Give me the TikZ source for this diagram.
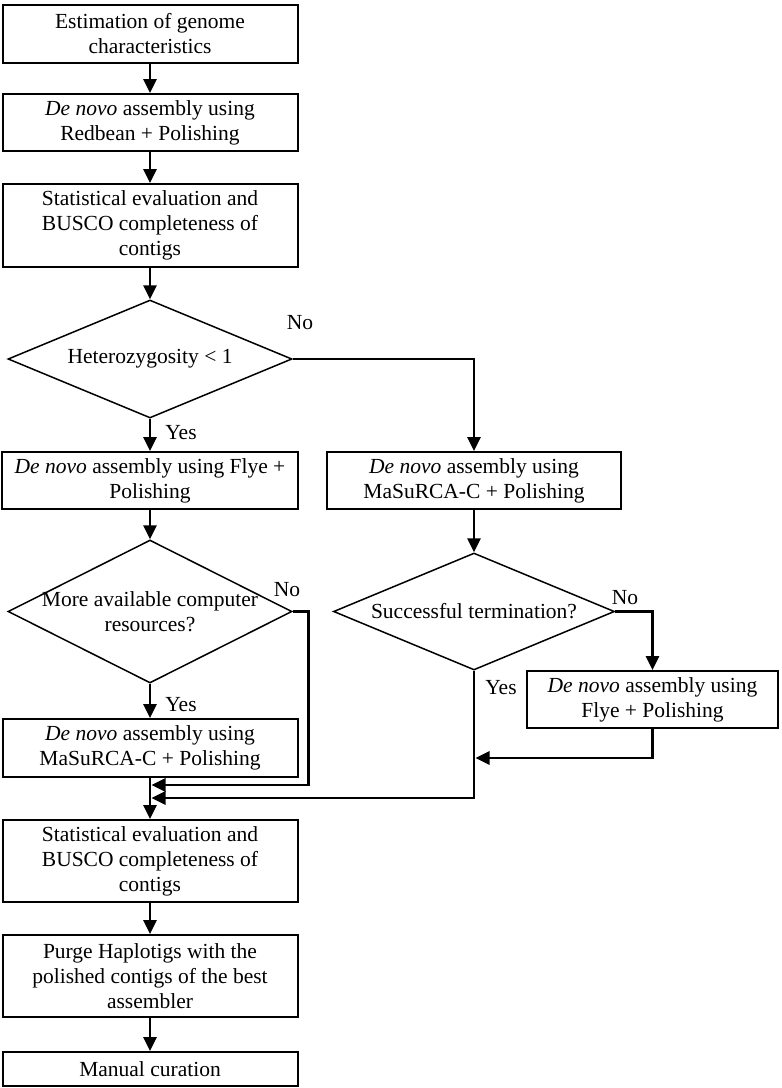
\documentclass[tikz,border=0pt]{standalone}
\usepackage{fontspec}
\setmainfont{Liberation Serif}
\usetikzlibrary{shapes.geometric,arrows.meta}

\begin{document}
\begin{tikzpicture}[x=1pt,y=-1pt,
  box/.style={draw=black,line width=2pt,rectangle,align=center,inner sep=0pt,font=\fontsize{21.5}{25}\selectfont},
  decision/.style={draw=black,line width=1.5pt,diamond,inner sep=0pt},
  tag/.style={align=center,inner sep=0pt,font=\fontsize{21.5}{25}\selectfont},
  flow/.style={line width=2.8pt,-{Triangle[width=13pt,length=14pt]}}]
\useasboundingbox (0,0) rectangle (782,1088);
% left column
\node[box,minimum width=295pt,minimum height=58pt] (est) at (150,34) {Estimation of genome\\characteristics};
\node[box,minimum width=295pt,minimum height=57pt] (red) at (150,122.5) {\textit{De novo} assembly using\\Redbean + Polishing};
\node[box,minimum width=295pt,minimum height=83pt] (stat1) at (150,225.5) {Statistical evaluation and\\BUSCO completeness of\\contigs};
\node[decision,minimum width=284pt,minimum height=118pt] (het) at (150,359) {};
\node[tag] (hettxt) at (het) {Heterozygosity < 1};
\node[box,minimum width=296pt,minimum height=57pt] (flye) at (150,480.5) {\textit{De novo} assembly using Flye +\\Polishing};
\node[decision,minimum width=284pt,minimum height=143pt] (more) at (150,611.5) {};
\node[tag] (moretxt) at (more) {More available computer\\resources?};
\node[box,minimum width=295pt,minimum height=58pt] (masl) at (150,748) {\textit{De novo} assembly using\\MaSuRCA-C + Polishing};
\node[box,minimum width=295pt,minimum height=82pt] (stat2) at (150,861) {Statistical evaluation and\\BUSCO completeness of\\contigs};
\node[box,minimum width=295pt,minimum height=82pt] (purge) at (150,976) {Purge Haplotigs with the\\polished contigs of the best\\assembler};
\node[box,minimum width=295pt,minimum height=34pt] (manual) at (150,1069) {Manual curation};
% right column
\node[box,minimum width=294pt,minimum height=57pt] (masr) at (474,480.5) {\textit{De novo} assembly using\\MaSuRCA-C + Polishing};
\node[decision,minimum width=281pt,minimum height=117pt] (succ) at (474,611.5) {};
\node[tag] (succtxt) at (succ) {Successful termination?};
\node[box,minimum width=251pt,minimum height=57pt] (flyr) at (652.5,699.5) {\textit{De novo} assembly using\\Flye + Polishing};
% labels
\node[tag] (no1) at (300,323) {No};
\node[tag] (yes1) at (181,433) {Yes};
\node[tag] (no2) at (287,590) {No};
\node[tag] (yes2) at (181,705) {Yes};
\node[tag] (no3) at (625,598) {No};
\node[tag] (yes3) at (501,688) {Yes};
% joins
\coordinate (j1) at (151.5,785);
\coordinate (j2) at (151.5,798);
\coordinate (j3) at (475.5,758);
% connectors
\draw[flow] (est.south) -- (red.north);
\draw[flow] (red.south) -- (stat1.north);
\draw[flow] (stat1.south) -- (het.north);
\draw[flow] (het.south) -- (flye.north);
\draw[flow] (het.east) -| (masr.north);
\draw[flow] (flye.south) -- (more.north);
\draw[flow] (more.south) -- (masl.north);
\draw[flow] (more.east) -- ++(16,0) |- (j1);
\draw[flow] (masr.south) -- (succ.north);
\draw[flow] (succ.east) -| (flyr.north);
\draw[flow] (flyr.south) |- (j3);
\draw[flow] (succ.south) |- (j2);
\draw[flow] (masl.south) -- (stat2.north);
\draw[flow] (stat2.south) -- (purge.north);
\draw[flow] (purge.south) -- (manual.north);
\end{tikzpicture}
\end{document}
